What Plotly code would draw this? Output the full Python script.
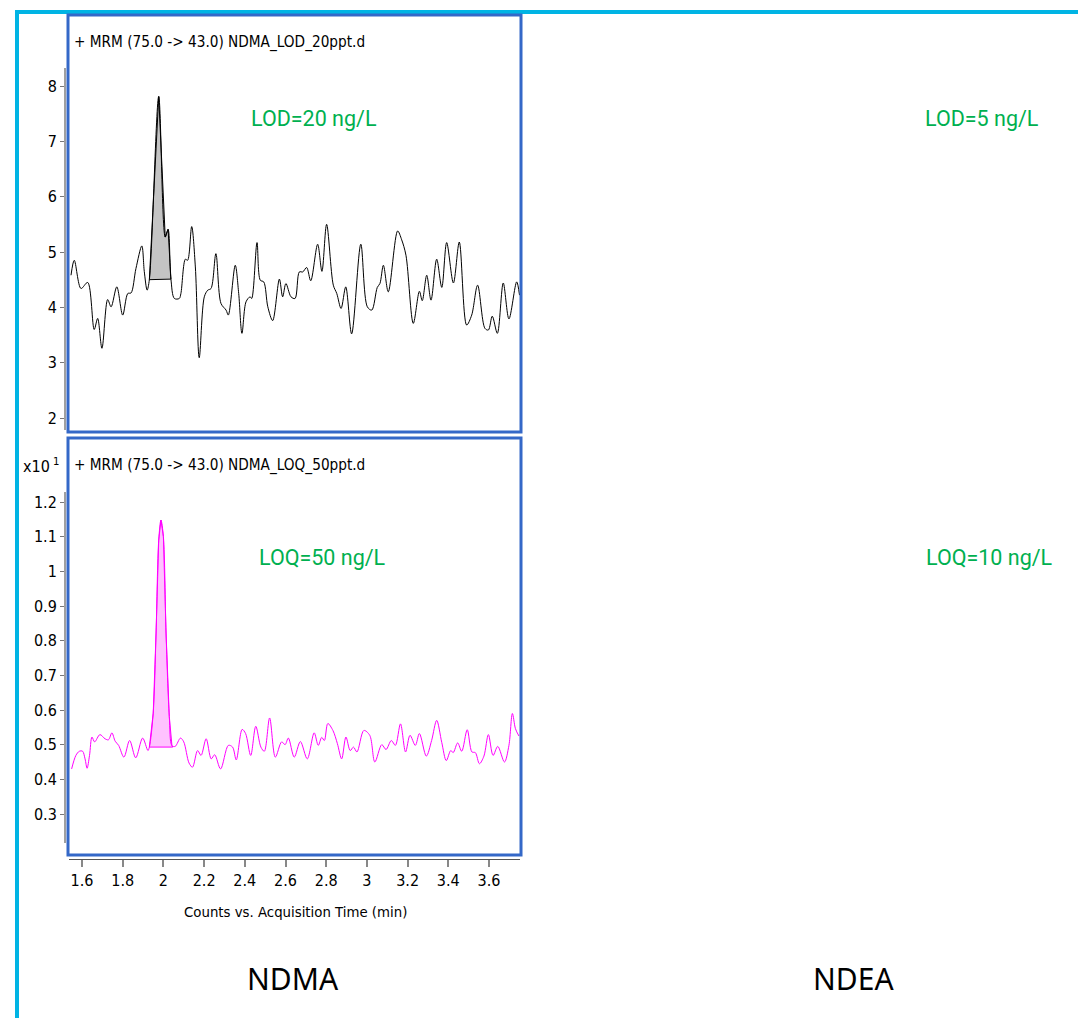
import plotly.graph_objects as go

W, H = 1078, 1018


def fx(px):
    return px / W


def fy(py):
    return 1 - py / H


# ---------------- data ----------------
lod_time = [1.546, 1.562, 1.595, 1.628, 1.660, 1.677, 1.698, 1.726, 1.743, 1.771,
            1.800, 1.825, 1.841, 1.865, 1.894, 1.906, 1.920, 1.931, 1.977, 2.009,
            2.023, 2.037, 2.054, 2.078, 2.086, 2.108, 2.119, 2.139, 2.157, 2.176,
            2.201, 2.218, 2.234, 2.258, 2.283, 2.308, 2.319, 2.353, 2.370, 2.386,
            2.406, 2.426, 2.434, 2.460, 2.476, 2.493, 2.513, 2.537, 2.570, 2.586,
            2.602, 2.627, 2.647, 2.668, 2.685, 2.704, 2.724, 2.758, 2.779, 2.802,
            2.835, 2.852, 2.873, 2.896, 2.925, 2.970, 3.002, 3.024, 3.051, 3.064,
            3.081, 3.105, 3.151, 3.171, 3.192, 3.228, 3.258, 3.272, 3.294, 3.315,
            3.343, 3.368, 3.392, 3.425, 3.454, 3.490, 3.515, 3.544, 3.580, 3.597,
            3.616, 3.641, 3.670, 3.698, 3.736, 3.750]
lod_counts = [4.58, 4.85, 4.34, 4.45, 3.60, 3.80, 3.26, 4.14, 4.01, 4.37,
              3.86, 4.25, 4.26, 4.70, 5.11, 4.65, 4.31, 4.50, 7.81, 5.27,
              5.41, 4.51, 4.16, 4.16, 4.25, 4.87, 4.85, 5.46, 4.73, 3.09,
              4.19, 4.31, 4.34, 4.97, 4.07, 3.95, 3.86, 4.76, 4.25, 3.53,
              4.10, 4.19, 4.16, 5.17, 4.49, 4.46, 4.01, 3.76, 4.51, 4.19,
              4.43, 4.19, 4.16, 4.64, 4.64, 4.72, 4.48, 5.14, 4.65, 5.50,
              4.40, 4.25, 3.98, 4.37, 3.52, 5.14, 4.01, 3.95, 4.36, 4.43,
              4.76, 4.28, 5.38, 5.22, 4.94, 3.71, 4.29, 4.12, 4.58, 4.13,
              4.87, 4.36, 5.17, 4.44, 5.18, 3.68, 3.86, 4.40, 3.62, 3.59,
              3.84, 3.53, 4.44, 3.79, 4.46, 4.22]

lod_peak_time = [1.931, 1.977, 2.009, 2.023, 2.037, 1.931]
lod_peak_counts = [4.50, 7.81, 5.27, 5.41, 4.51, 4.50]

loq_time = [1.549, 1.570, 1.587, 1.603, 1.615, 1.625, 1.637, 1.649, 1.662, 1.688,
            1.713, 1.730, 1.747, 1.763, 1.780, 1.806, 1.834, 1.864, 1.898, 1.924,
            1.931, 1.950, 1.964, 1.977, 1.988, 2.000, 2.013, 2.029, 2.042, 2.058,
            2.084, 2.100, 2.126, 2.143, 2.168, 2.185, 2.210, 2.235, 2.252, 2.281,
            2.319, 2.340, 2.358, 2.387, 2.404, 2.429, 2.454, 2.479, 2.496, 2.522,
            2.550, 2.581, 2.598, 2.614, 2.643, 2.673, 2.707, 2.741, 2.761, 2.778,
            2.791, 2.808, 2.833, 2.855, 2.876, 2.897, 2.918, 2.934, 2.951, 2.985,
            3.014, 3.039, 3.073, 3.094, 3.120, 3.140, 3.165, 3.190, 3.212, 3.238,
            3.258, 3.292, 3.318, 3.343, 3.368, 3.390, 3.412, 3.424, 3.446, 3.466,
            3.493, 3.516, 3.533, 3.553, 3.575, 3.597, 3.620, 3.643, 3.676, 3.698,
            3.715, 3.730, 3.747]
loq_counts = [0.430, 0.469, 0.481, 0.481, 0.459, 0.432, 0.469, 0.522, 0.508, 0.529,
              0.517, 0.514, 0.534, 0.510, 0.498, 0.464, 0.512, 0.462, 0.519, 0.483,
              0.493, 0.591, 0.822, 1.090, 1.148, 1.100, 0.822, 0.581, 0.497, 0.495,
              0.519, 0.508, 0.447, 0.435, 0.483, 0.469, 0.517, 0.459, 0.471, 0.430,
              0.498, 0.493, 0.456, 0.544, 0.532, 0.469, 0.553, 0.493, 0.481, 0.577,
              0.464, 0.508, 0.500, 0.519, 0.464, 0.509, 0.459, 0.534, 0.498, 0.521,
              0.512, 0.561, 0.541, 0.503, 0.459, 0.522, 0.483, 0.493, 0.479, 0.541,
              0.527, 0.450, 0.500, 0.486, 0.512, 0.498, 0.560, 0.479, 0.527, 0.498,
              0.532, 0.467, 0.512, 0.570, 0.506, 0.454, 0.483, 0.477, 0.505, 0.481,
              0.543, 0.479, 0.477, 0.445, 0.467, 0.529, 0.469, 0.495, 0.450, 0.498,
              0.590, 0.546, 0.525]

loq_peak_time = [1.931, 1.950, 1.964, 1.977, 1.988, 2.000, 2.013, 2.029, 2.042, 2.046, 1.931]
loq_peak_counts = [0.493, 0.591, 0.822, 1.090, 1.148, 1.100, 0.822, 0.581, 0.497, 0.493, 0.493]

x_tick_vals = [1.6, 1.8, 2.0, 2.2, 2.4, 2.6, 2.8, 3.0, 3.2, 3.4, 3.6]
x_tick_text = ["1.6", "1.8", "2", "2.2", "2.4", "2.6", "2.8", "3", "3.2", "3.4", "3.6"]
top_y_ticks = [2, 3, 4, 5, 6, 7, 8]
bottom_y_ticks = [0.3, 0.4, 0.5, 0.6, 0.7, 0.8, 0.9, 1.0, 1.1, 1.2]
bottom_y_text = ["0.3", "0.4", "0.5", "0.6", "0.7", "0.8", "0.9", "1", "1.1", "1.2"]

top_title = "+ MRM (75.0 -> 43.0) NDMA_LOD_20ppt.d"
bottom_title = "+ MRM (75.0 -> 43.0) NDMA_LOQ_50ppt.d"
x_title = "Counts vs. Acquisition Time (min)"

# ---------------- geometry ----------------
def lin(p, p1, v1, p2, v2):
    return v1 + (p - p1) * (v2 - v1) / (p2 - p1)

X_L, X_R = 69, 520
TOP_T, TOP_B = 16, 430
BOT_T, BOT_B = 440, 859

x_range = [lin(X_L, 82, 1.6, 489, 3.6), lin(X_R, 82, 1.6, 489, 3.6)]
top_range = [lin(TOP_B, 86, 8, 418, 2), lin(TOP_T, 86, 8, 418, 2)]
bot_range = [lin(BOT_B, 502, 1.2, 814, 0.3), lin(BOT_T, 502, 1.2, 814, 0.3)]

NARROW = "Liberation Sans Narrow, Arial Narrow, DejaVu Sans Condensed, Liberation Sans, sans-serif"
GREEN = "#00b050"
BOX = "#3468c8"
CYAN = "#00b4e4"

fig = go.Figure()

fig.add_trace(go.Scatter(x=lod_peak_time, y=lod_peak_counts, mode="lines", fill="toself",
                         fillcolor="#c4c4c4", line=dict(color="black", width=1),
                         xaxis="x", yaxis="y", hoverinfo="skip"))
fig.add_trace(go.Scatter(x=lod_time, y=lod_counts, mode="lines",
                         line=dict(color="black", width=1, shape="spline", smoothing=0.9),
                         xaxis="x", yaxis="y"))
fig.add_trace(go.Scatter(x=loq_peak_time, y=loq_peak_counts, mode="lines", fill="toself",
                         fillcolor="#ffc2ff", line=dict(color="#ff00ff", width=1),
                         xaxis="x2", yaxis="y2", hoverinfo="skip"))
fig.add_trace(go.Scatter(x=loq_time, y=loq_counts, mode="lines",
                         line=dict(color="#ff00ff", width=1, shape="spline", smoothing=0.9),
                         xaxis="x2", yaxis="y2"))

tickfont = dict(family=NARROW, size=16, color="black")

fig.update_layout(
    width=W, height=H, autosize=False,
    margin=dict(l=0, r=0, t=0, b=0),
    paper_bgcolor="white", plot_bgcolor="rgba(0,0,0,0)",
    showlegend=False,
    xaxis=dict(domain=[fx(X_L), fx(X_R)], range=x_range, visible=False, anchor="y"),
    yaxis=dict(domain=[fy(TOP_B), fy(TOP_T)], range=top_range, anchor="free", position=fx(65),
               tickmode="array", tickvals=top_y_ticks, ticks="outside", ticklen=5,
               tickcolor="#777777", tickwidth=1, showline=False, showgrid=False,
               zeroline=False, tickfont=tickfont),
    xaxis2=dict(domain=[fx(X_L), fx(X_R)], range=x_range, anchor="free", position=fy(BOT_B),
                tickmode="array", tickvals=x_tick_vals, ticktext=x_tick_text,
                ticks="outside", ticklen=7, tickcolor="#888888", tickwidth=1.5,
                showline=True, linecolor="#555555", linewidth=1, showgrid=False,
                zeroline=False, tickfont=tickfont),
    yaxis2=dict(domain=[fy(BOT_B), fy(BOT_T)], range=bot_range, anchor="free", position=fx(65),
                tickmode="array", tickvals=bottom_y_ticks, ticktext=bottom_y_text,
                ticks="outside", ticklen=5, tickcolor="#777777", tickwidth=1,
                showline=False, showgrid=False, zeroline=False, tickfont=tickfont),
)

shapes = [
    # cyan frame
    dict(type="line", xref="paper", yref="paper", x0=fx(17), x1=fx(17), y0=fy(10), y1=fy(1018),
         line=dict(color=CYAN, width=4)),
    dict(type="line", xref="paper", yref="paper", x0=fx(15), x1=fx(1078), y0=fy(12), y1=fy(12),
         line=dict(color=CYAN, width=4)),
    # grey y axis lines
    dict(type="line", xref="paper", yref="paper", x0=fx(65), x1=fx(65), y0=fy(68), y1=fy(430),
         line=dict(color="#a0a0a0", width=2)),
    dict(type="line", xref="paper", yref="paper", x0=fx(65), x1=fx(65), y0=fy(492), y1=fy(843),
         line=dict(color="#a0a0a0", width=2)),
    # blue panel boxes
    dict(type="rect", xref="paper", yref="paper", x0=fx(68), x1=fx(521), y0=fy(432), y1=fy(15),
         line=dict(color=BOX, width=3)),
    dict(type="rect", xref="paper", yref="paper", x0=fx(68), x1=fx(521), y0=fy(855), y1=fy(438),
         line=dict(color=BOX, width=3)),
]
fig.update_layout(shapes=shapes)

def ann(text, px, py, size, color="black", family=NARROW, xanchor="center"):
    return dict(text=text, x=fx(px), y=fy(py), xref="paper", yref="paper",
                xanchor=xanchor, yanchor="middle", showarrow=False,
                font=dict(family=family, size=size, color=color))

GREEN_FONT = "Roboto, Noto Sans, sans-serif"
annotations = [
    ann(top_title, 72, 42, 15.2, xanchor="left"),
    ann(bottom_title, 72, 466, 15.2, xanchor="left"),
    ann("x10<sup> 1</sup>", 21, 465, 16, xanchor="left"),
    ann("LOD=20 ng/L", 314, 118, 21.5, GREEN, GREEN_FONT),
    ann("LOD=5 ng/L", 982, 118, 21.5, GREEN, GREEN_FONT),
    ann("LOQ=50 ng/L", 322, 557, 21.5, GREEN, GREEN_FONT),
    ann("LOQ=10 ng/L", 989, 557, 21.5, GREEN, GREEN_FONT),
    ann(x_title, 295, 911, 14.8),
    ann("NDMA", 293, 978, 30, "black", "Noto Sans, DejaVu Sans, sans-serif"),
    ann("NDEA", 853, 978, 30, "black", "Noto Sans, DejaVu Sans, sans-serif"),
]
fig.update_layout(annotations=annotations)

fig.write_html("out.html", config={"displayModeBar": False},
               post_script="document.body.style.margin='0';document.body.style.overflow='hidden';")
